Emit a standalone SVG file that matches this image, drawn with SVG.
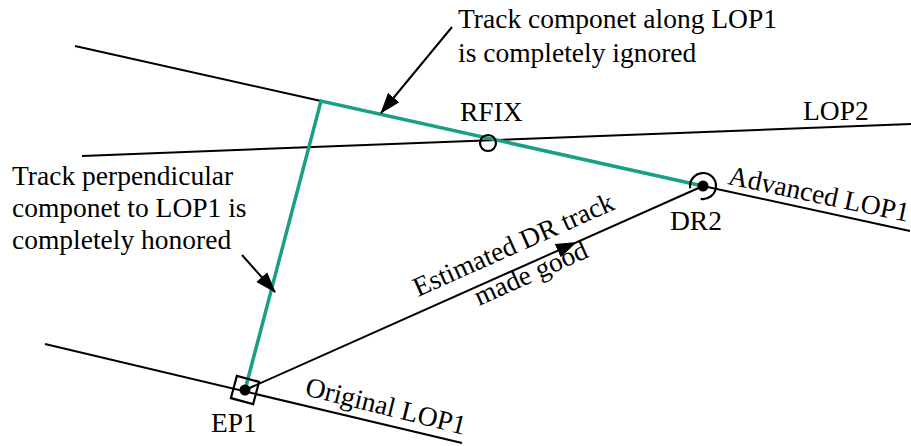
<svg xmlns="http://www.w3.org/2000/svg" width="911" height="446" viewBox="0 0 911 446">
<defs>
<style>
.ln{stroke:#000;stroke-width:2;fill:none}
.gr{stroke:#17a085;stroke-width:3.5;fill:none;stroke-linejoin:miter}
text{font-family:'Liberation Serif','Times New Roman',serif;font-size:27.5px;fill:#000}
</style>
<marker id="ah" viewBox="0 0 20 14" refX="19" refY="7" markerWidth="21" markerHeight="15" markerUnits="userSpaceOnUse" orient="auto">
<path d="M0,0 L20,7 L0,14 Z" fill="#000"/>
</marker>
</defs>
<rect width="911" height="446" fill="#fff"/>
<g id="connectors">
<line class="ln" x1="75" y1="46" x2="321" y2="101"/>
<line class="ln" x1="703" y1="186" x2="910" y2="231"/>
<line class="ln" x1="82" y1="156" x2="911" y2="124"/>
<line class="ln" x1="45" y1="344" x2="462" y2="443"/>
<line class="ln" x1="245" y1="390" x2="703" y2="186"/>
<path d="M245,390 L576,242.5" fill="none" stroke="none" marker-end="url(#ah)"/>
<polyline class="gr" points="245,390 321,101 703,186"/>
<line class="ln" x1="452" y1="27" x2="381" y2="113" marker-end="url(#ah)"/>
<line class="ln" x1="242" y1="255" x2="275" y2="292" marker-end="url(#ah)"/>
</g>
<g id="EP1">
<rect x="-11.5" y="-11.5" width="23" height="23" transform="translate(245,390) rotate(15)" fill="none" stroke="#000" stroke-width="2.2"/>
<circle cx="245" cy="390" r="5.5" fill="#000"/>
<text x="211" y="432">EP1</text>
</g>
<g id="DR2">
<circle cx="703" cy="186" r="5.5" fill="#000"/>
<path d="M690.2,188.3 A13,13 0 1 1 700.7,198.8" fill="none" stroke="#000" stroke-width="2.2"/>
<text x="670" y="230">DR2</text>
</g>
<g id="RFIX">
<circle cx="488" cy="143" r="8" fill="none" stroke="#000" stroke-width="2.2"/>
<text x="460" y="121">RFIX</text>
</g>
<g id="labels">
<text x="458" y="28">Track componet along LOP1</text>
<text x="458" y="62">is completely ignored</text>
<text x="803" y="120">LOP2</text>
<text x="12" y="185">Track perpendicular</text>
<text x="12" y="217">componet to LOP1 is</text>
<text x="12" y="249">completely honored</text>
<text transform="translate(727,184) rotate(11.9)" font-size="27">Advanced LOP1</text>
<text transform="translate(304,395) rotate(14)">Original LOP1</text>
<text transform="translate(418,297) rotate(-24)">Estimated DR track</text>
<text transform="translate(479,306) rotate(-24)">made good</text>
</g>
</svg>
